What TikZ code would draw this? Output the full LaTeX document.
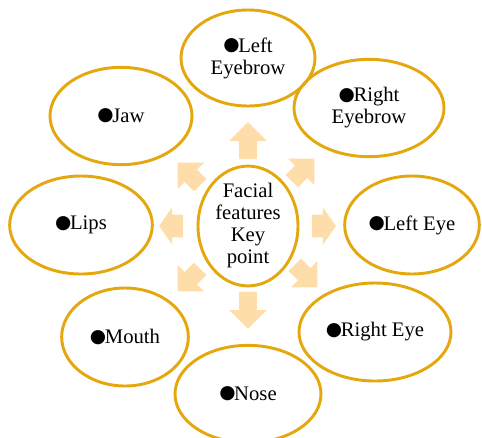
\documentclass[tikz,border=0pt]{standalone}
\usepackage{fontspec}
\setmainfont{Liberation Serif}
\newfontfamily\dotfont{DejaVu Sans}
\usetikzlibrary{shapes.geometric,shapes.arrows}

\definecolor{ringgold}{RGB}{229,167,14}
\definecolor{peach}{RGB}{255,221,170}
\newcommand{\keydot}{\raisebox{1pt}{\dotfont\fontsize{14}{14}\selectfont ●}\kern-1pt}

\begin{document}
\begin{tikzpicture}[x=0.75pt,y=-0.75pt]
  \tikzset{ring/.style={ellipse, draw=ringgold, line width=2.2pt,
      inner sep=0pt, align=center,
      font=\fontsize{15.5}{16.5}\selectfont},
    blk/.style={single arrow, fill=peach, draw=none, inner xsep=0pt,
      inner ysep=6.4pt, single arrow head extend=7.5pt,
      minimum width=0pt, minimum height=27.75pt}}
  \useasboundingbox (0,0) rectangle (482,437);
  % the centre and the eight features round it
  \node[ring, minimum width=75pt, minimum height=72pt] (hub) at (248,226)
       {Facial\\features\\Key\\point};
  \node[ring, minimum width=100.5pt, minimum height=72pt] (lbrow) at (248,58)
       {\keydot Left\\Eyebrow};
  \node[ring, minimum width=112.5pt, minimum height=73pt] (rbrow) at (369,108)
       {\keydot Right\\Eyebrow};
  \node[ring, minimum width=106.5pt, minimum height=73pt] (jaw) at (121,116)
       {\keydot Jaw};
  \node[ring, minimum width=107pt, minimum height=73.5pt] (lips) at (81,225)
       {\keydot Lips};
  \node[ring, minimum width=101pt, minimum height=73.5pt] (leye) at (412,225)
       {\keydot Left Eye};
  \node[ring, minimum width=95pt, minimum height=73.5pt] (mouth) at (125,337)
       {\keydot Mouth};
  \node[ring, minimum width=114pt, minimum height=73.5pt] (reye) at (375,332)
       {\keydot Right Eye};
  \node[ring, minimum width=109.5pt, minimum height=73pt] (nose) at (248,394)
       {\keydot Nose};
  % block arrows pointing out from the centre
  \node[blk, rotate=90] (a1) at (248,145) {};
  \node[blk, rotate=45, minimum height=24pt] (a2) at (300,173) {};
  \node[blk, rotate=0, minimum height=18pt, inner ysep=8.25pt,
        single arrow head extend=5.6pt, single arrow tip angle=110] (a3) at (320,226) {};
  \node[blk, rotate=-45, minimum height=24pt] (a4) at (303,273) {};
  \node[blk, rotate=-90] (a5) at (248,306) {};
  \node[blk, rotate=-135, minimum height=24pt] (a6) at (192,277) {};
  \node[blk, rotate=180, minimum height=18pt, inner ysep=8.25pt,
        single arrow head extend=5.6pt, single arrow tip angle=110] (a7) at (175,226) {};
  \node[blk, rotate=135, minimum height=24pt] (a8) at (192,177) {};
\end{tikzpicture}
\end{document}
